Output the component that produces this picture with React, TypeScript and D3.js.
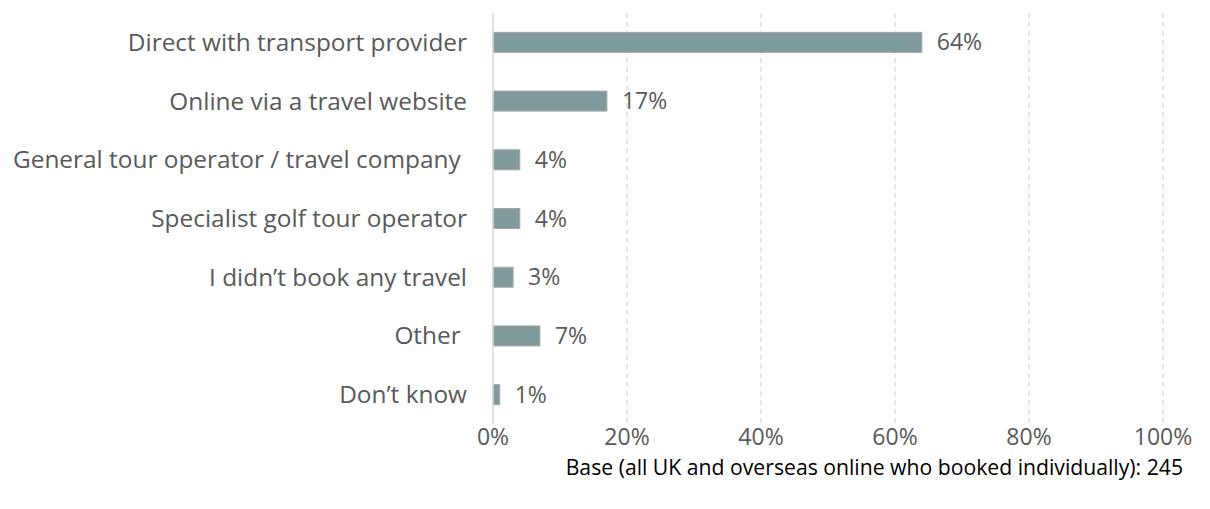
import React from "react";
import * as d3 from "d3";

const categories = [
  "Direct with transport provider",
  "Online via a travel website",
  "General tour operator / travel company ",
  "Specialist golf tour operator",
  "I didn\u2019t book any travel",
  "Other ",
  "Don\u2019t know",
];
const values = [64, 17, 4, 4, 3, 7, 1];
const ticks = [0, 20, 40, 60, 80, 100];
const baseNote = "Base (all UK and overseas online who booked individually): 245";

export default function App() {
  const W = 1210, H = 509;
  const x = d3.scaleLinear().domain([0, 100]).range([493, 1163]);
  const y = d3.scaleBand().domain(categories).range([13, 424]).paddingInner(0.66).paddingOuter(0.33);
  const font = "'Open Sans', sans-serif";
  const textColor = "#595959";
  return (
    <svg width={W} height={H} style={{ position: "absolute", left: 0, top: 0 }} fontFamily={font}>
      {ticks.slice(1).map((t) => (
        <line key={t} x1={x(t)} x2={x(t)} y1={13} y2={424} stroke="#d9d9d9" strokeWidth={1.3} strokeDasharray="5,4" />
      ))}
      {categories.map((c, i) => (
        <g key={c}>
          <rect x={x(0)} y={y(c)!} width={x(values[i]) - x(0)} height={y.bandwidth()} fill="#7f9a9c" stroke="#a5a5a5" strokeWidth={1} />
          <text x={x(values[i]) + 15} y={y(c)! + y.bandwidth() / 2} dy="0.35em" fontSize={23} fill={textColor}>
            {values[i]}%
          </text>
          <text x={467} y={y(c)! + y.bandwidth() / 2} dy="0.35em" fontSize={24.4} fill={textColor} textAnchor="end" style={{ whiteSpace: "pre" }}>
            {c}
          </text>
        </g>
      ))}
      <line x1={x(0)} x2={x(0)} y1={13} y2={424} stroke="#d9d9d9" strokeWidth={1.5} />
      {ticks.map((t) => (
        <text key={t} x={x(t)} y={437} dy="0.35em" fontSize={23} fill={textColor} textAnchor="middle">
          {t}%
        </text>
      ))}
      <text x={1183} y={468} dy="0.35em" fontSize={21.2} fill="#000" textAnchor="end">
        {baseNote}
      </text>
    </svg>
  );
}
